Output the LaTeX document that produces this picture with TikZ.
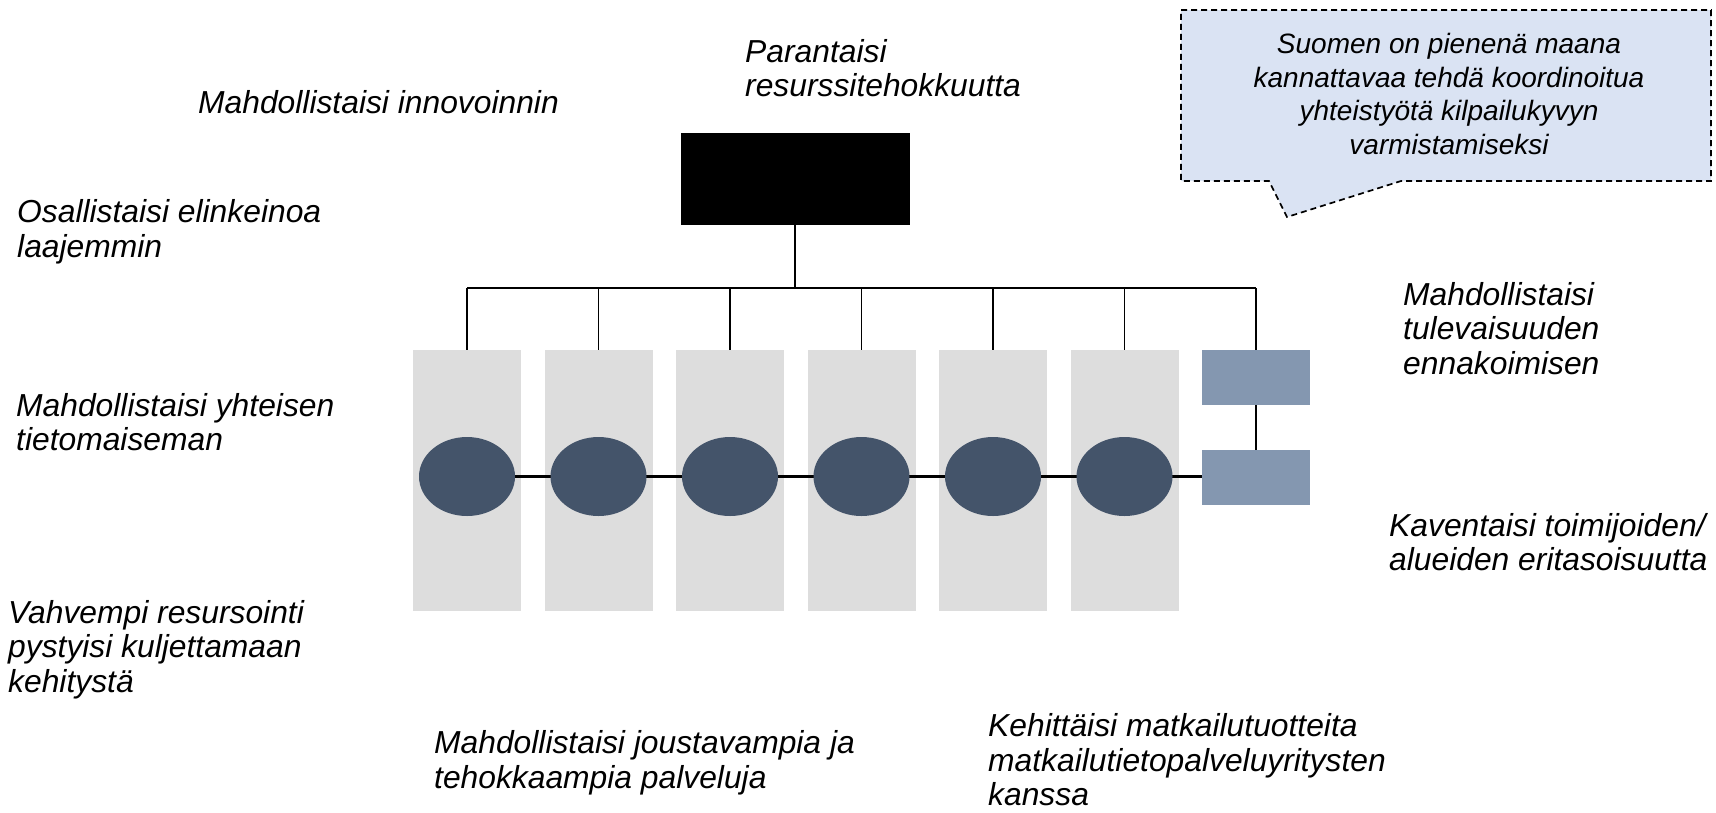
\documentclass[tikz,border=0pt]{standalone}
\usepackage{fontspec}
\setmainfont{Liberation Sans}
\usepackage{tikz}
\usetikzlibrary{positioning, shapes.geometric}

\definecolor{lanegray}{HTML}{DDDDDD}
\definecolor{tagblue}{HTML}{8497B0}
\definecolor{dotblue}{HTML}{44546A}
\definecolor{notefill}{HTML}{DAE3F3}

\begin{document}
\begin{tikzpicture}[
    x=1pt, y=-1pt, node distance=23.5pt,
    lane/.style={fill=lanegray, inner sep=0pt, outer sep=0pt, minimum width=108pt, minimum height=261pt},
    tag/.style={fill=tagblue, inner sep=0pt, outer sep=0pt, minimum width=108pt, minimum height=55pt},
    dot/.style={ellipse, fill=dotblue, inner sep=0pt, outer sep=0pt, minimum width=96pt, minimum height=79pt},
    head/.style={fill=black, inner sep=0pt, minimum width=229pt, minimum height=92pt},
    lbl/.style={anchor=base west, align=left, inner sep=0pt, font=\fontsize{31.8}{34.5}\selectfont\itshape},
    note/.style={anchor=base, align=center, inner sep=0pt, font=\fontsize{28}{33.5}\selectfont\itshape}
]
\useasboundingbox (0,0) rectangle (1716,812);

% Puhekupla
\draw[fill=notefill, line width=1.7pt, dash pattern=on 6pt off 4pt]
    (1181,10) -- (1711,10) -- (1711,181) -- (1401,181) -- (1287,217) -- (1269,181) -- (1181,181) -- cycle;
\node[note] (msg) at (1449,154) {Suomen on pienenä maana\\kannattavaa tehdä koordinoitua\\yhteistyötä kilpailukyvyn\\varmistamiseksi};

% Sarakkeet
\node[lane] (c1) at (467,480.5) {};
\node[lane, right=of c1] (c2) {};
\node[lane, right=of c2] (c3) {};
\node[lane, right=of c3] (c4) {};
\node[lane, right=of c4] (c5) {};
\node[lane, right=of c5] (c6) {};
\node[tag, below right=0pt and 23.5pt of c6.north east] (ta) {};
\node[tag, below=45pt of ta] (tb) {};

% Yläsolmu ja haarat
\node[head] (top) at (795,178.5) {};
\coordinate (hub) at (795,288);
\draw[line width=2.5pt] (top.south) -- (hub);
\draw[line width=1.8pt] (c1.north |- hub) -- (ta.north |- hub);
\draw[line width=1.3pt] (c1.north |- hub) -- (c1.north);
\draw[line width=1.3pt] (c2.north |- hub) -- (c2.north);
\draw[line width=1.3pt] (c3.north |- hub) -- (c3.north);
\draw[line width=1.3pt] (c4.north |- hub) -- (c4.north);
\draw[line width=1.3pt] (c5.north |- hub) -- (c5.north);
\draw[line width=1.3pt] (c6.north |- hub) -- (c6.north);
\draw[line width=1.3pt] (ta.north |- hub) -- (ta.north);

% Soikiot ja ketju
\coordinate (spine) at (0,476.5);
\draw[line width=2.2pt] (c1 |- spine) -- (tb.west |- spine);
\draw[line width=1.3pt] (ta) -- (tb);
\node[dot] (e1) at (c1 |- spine) {};
\node[dot] (e2) at (c2 |- spine) {};
\node[dot] (e3) at (c3 |- spine) {};
\node[dot] (e4) at (c4 |- spine) {};
\node[dot] (e5) at (c5 |- spine) {};
\node[dot] (e6) at (c6 |- spine) {};

% Tekstit (ankkuri: viimeisen rivin perusviiva)
\node[lbl] (t1) at (745,96.5) {Parantaisi\\resurssitehokkuutta};
\node[lbl] (t2) at (198,113) {Mahdollistaisi innovoinnin};
\node[lbl] (t3) at (17,257) {Osallistaisi elinkeinoa\\laajemmin};
\node[lbl] (t4) at (16,450.7) {Mahdollistaisi yhteisen\\tietomaiseman};
\node[lbl] (t5) at (8,692) {Vahvempi resursointi\\pystyisi kuljettamaan\\kehitystä};
\node[lbl] (t6) at (434,788.3) {Mahdollistaisi joustavampia ja\\tehokkaampia palveluja};
\node[lbl] (t7) at (988,805.5) {Kehittäisi matkailutuotteita\\matkailutietopalveluyritysten\\kanssa};
\node[lbl] (t8) at (1403,374) {Mahdollistaisi\\tulevaisuuden\\ennakoimisen};
\node[lbl] (t9) at (1389,570.5) {Kaventaisi toimijoiden/\\alueiden eritasoisuutta};

\end{tikzpicture}
\end{document}
